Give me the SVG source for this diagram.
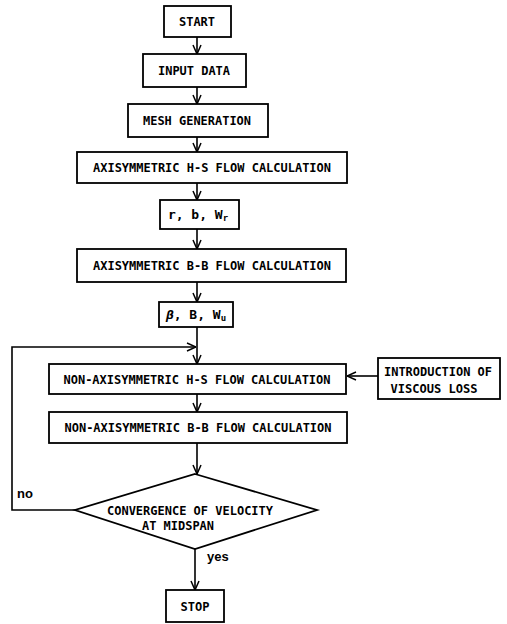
<svg xmlns="http://www.w3.org/2000/svg" width="507" height="624" viewBox="0 0 507 624">
<defs>
<marker id="arr" viewBox="0 0 10 10" refX="10" refY="5" markerWidth="10" markerHeight="10" markerUnits="userSpaceOnUse" orient="auto">
<path d="M1,1 L10,5 L1,9" fill="none" stroke="#000" stroke-width="1.5"/>
</marker>
<style>
.box{fill:#fff;stroke:#000;stroke-width:1.8}
.t{font-family:"DejaVu Sans Mono","Liberation Mono",monospace;font-weight:bold;font-size:13px;fill:#000;text-anchor:middle}
.lbl{font-family:"Liberation Sans","DejaVu Sans",sans-serif;font-weight:bold;font-size:13px;fill:#000}
.c{fill:none;stroke:#000;stroke-width:1.6}
</style>
</defs>
<g id="connectors">
<line class="c" x1="197" y1="37" x2="197" y2="54" marker-end="url(#arr)"/>
<line class="c" x1="197" y1="87" x2="197" y2="104" marker-end="url(#arr)"/>
<line class="c" x1="197" y1="137" x2="197" y2="152" marker-end="url(#arr)"/>
<line class="c" x1="197" y1="183" x2="197" y2="200" marker-end="url(#arr)"/>
<line class="c" x1="197" y1="229" x2="197" y2="249" marker-end="url(#arr)"/>
<line class="c" x1="197" y1="282" x2="197" y2="302" marker-end="url(#arr)"/>
<line class="c" x1="197" y1="327" x2="197" y2="364" marker-end="url(#arr)"/>
<polyline class="c" points="75,510 12,510 12,347 196,347" marker-end="url(#arr)"/>
<line class="c" x1="378" y1="376" x2="347" y2="376" marker-end="url(#arr)"/>
<line class="c" x1="197" y1="394" x2="197" y2="412" marker-end="url(#arr)"/>
<line class="c" x1="197" y1="443" x2="197" y2="474" marker-end="url(#arr)"/>
<line class="c" x1="195" y1="549" x2="195" y2="590" marker-end="url(#arr)"/>
<text class="lbl" x="17" y="498">no</text>
<text class="lbl" x="207" y="561">yes</text>
</g>
<g id="start">
<rect class="box" x="164" y="6" width="67" height="31"/>
<text class="t" x="197" y="26" textLength="36" lengthAdjust="spacingAndGlyphs">START</text>
</g>
<g id="input">
<rect class="box" x="143" y="54" width="103" height="33"/>
<text class="t" x="194" y="75" textLength="72" lengthAdjust="spacingAndGlyphs">INPUT DATA</text>
</g>
<g id="mesh">
<rect class="box" x="128" y="104" width="140" height="33"/>
<text class="t" x="197" y="125" textLength="108" lengthAdjust="spacingAndGlyphs">MESH GENERATION</text>
</g>
<g id="axi-hs">
<rect class="box" x="77" y="152" width="270" height="31"/>
<text class="t" x="212" y="172" textLength="238" lengthAdjust="spacingAndGlyphs">AXISYMMETRIC H-S FLOW CALCULATION</text>
</g>
<g id="rbw">
<rect class="box" x="160" y="200" width="79" height="29"/>
<text class="t" x="198" y="219">r, b, W<tspan font-size="9" dy="2">r</tspan></text>
</g>
<g id="axi-bb">
<rect class="box" x="77" y="249" width="269" height="33"/>
<text class="t" x="212" y="270" textLength="238" lengthAdjust="spacingAndGlyphs">AXISYMMETRIC B-B FLOW CALCULATION</text>
</g>
<g id="beta">
<rect class="box" x="159" y="302" width="74" height="25"/>
<text class="t" x="196" y="319"><tspan font-style="italic">β</tspan>, B, W<tspan font-size="9" dy="2">u</tspan></text>
</g>
<g id="nonaxi-hs">
<rect class="box" x="49" y="364" width="297" height="30"/>
<text class="t" x="197" y="384" textLength="267" lengthAdjust="spacingAndGlyphs">NON-AXISYMMETRIC H-S FLOW CALCULATION</text>
</g>
<g id="viscous">
<rect class="box" x="378" y="358" width="122" height="41"/>
<text class="t" x="438" y="376" textLength="108" lengthAdjust="spacingAndGlyphs">INTRODUCTION OF</text>
<text class="t" x="434" y="393" textLength="87" lengthAdjust="spacingAndGlyphs">VISCOUS LOSS</text>
</g>
<g id="nonaxi-bb">
<rect class="box" x="49" y="412" width="298" height="31"/>
<text class="t" x="198" y="432" textLength="267" lengthAdjust="spacingAndGlyphs">NON-AXISYMMETRIC B-B FLOW CALCULATION</text>
</g>
<g id="convergence">
<polygon class="box" points="195,474 317,510 195,549 75,510"/>
<text class="t" x="190" y="515" textLength="166" lengthAdjust="spacingAndGlyphs">CONVERGENCE OF VELOCITY</text>
<text class="t" x="178" y="530" textLength="72" lengthAdjust="spacingAndGlyphs">AT MIDSPAN</text>
</g>
<g id="stop">
<rect class="box" x="166" y="590" width="58" height="32"/>
<text class="t" x="195" y="611" textLength="29" lengthAdjust="spacingAndGlyphs">STOP</text>
</g>
</svg>
